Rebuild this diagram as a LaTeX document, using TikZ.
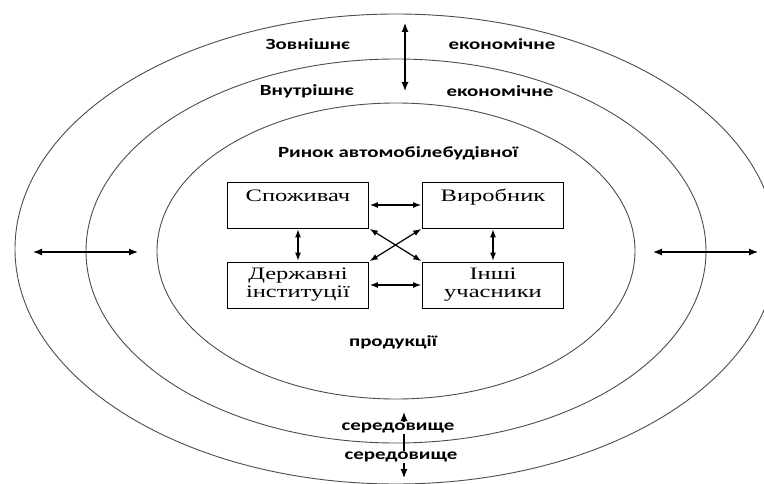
\documentclass[tikz,border=0pt]{standalone}
\usepackage{fontspec}
\setmainfont[FakeStretch=1.4]{Liberation Serif}
\newfontfamily\calfont[FakeStretch=1.35]{Carlito}
\usetikzlibrary{arrows.meta}

\begin{document}
\begin{tikzpicture}[-,>={Latex[length=9pt,width=7pt]},x=1pt,y=-1pt,
  node distance=195pt,
  ring/.style={draw=black!70,line width=0.9pt},
  link/.style={<->,line width=1.2pt,shorten >=1pt,shorten <=1pt},
  main node/.style={rectangle,draw,line width=0.8pt,minimum width=141pt,minimum height=46pt,
    align=center,inner sep=1pt,font=\fontsize{17.5}{18}\selectfont},
  one line/.style={text height=12pt,text depth=18pt},
  word node/.style={font=\calfont\bfseries\fontsize{15.5}{17}\selectfont,inner sep=1pt}]
  \useasboundingbox (0,0) rectangle (764,484);
  \clip (0,0) rectangle (764,484);

  % environment rings
  \draw[ring] (396,249) ellipse [x radius=381pt, y radius=235pt];
  \draw[ring] (396,251) ellipse [x radius=310pt, y radius=192pt];
  \draw[ring] (396,251) ellipse [x radius=239pt, y radius=148pt];

  % market participants
  \node[main node,one line] (1) at (298,205) {Споживач};
  \node[main node,one line] (2) [right of=1] {Виробник};
  \node[main node] (3) [below of=1,node distance=80pt] {Державні\\інституції};
  \node[main node] (4) [right of=3] {Інші\\учасники};

  \path[link,>={Latex[length=8pt,width=6pt]}]
    (1) edge (2)
    (3) edge (4)
    (1) edge (3)
    (2) edge (4)
    (1.south east) edge (4.north west)
    (2.south west) edge (3.north east);

  % arrows across the rings
  \coordinate (t1) at (405,22);
  \coordinate (t2) at (405,92);
  \coordinate (l1) at (32,252);
  \coordinate (l2) at (139,252);
  \coordinate (r1) at (652,252);
  \coordinate (r2) at (759,252);
  \coordinate (b1) at (404,411);
  \coordinate (b2) at (404,479);
  \path[link]
    (t1) edge (t2)
    (l1) edge (l2)
    (r1) edge (r2)
    (b1) edge (b2);

  \node[word node] (zovn) at (308,44) {Зовнішнє};
  \node[word node] (ekon1) at (502,44) {економічне};
  \node[word node] (vnutr) at (307,91) {Внутрішнє};
  \node[word node] (ekon2) at (500,91) {економічне};
  \node[word node] (rynok) at (398,153) {Ринок автомобілебудівної};
  \node[word node] (prod) at (393,342) {продукції};
  \node[word node,fill=white] (ser1) at (398,428) {середовище};
  \node[word node,fill=white] (ser2) at (401,457) {середовище};
\end{tikzpicture}
\end{document}
